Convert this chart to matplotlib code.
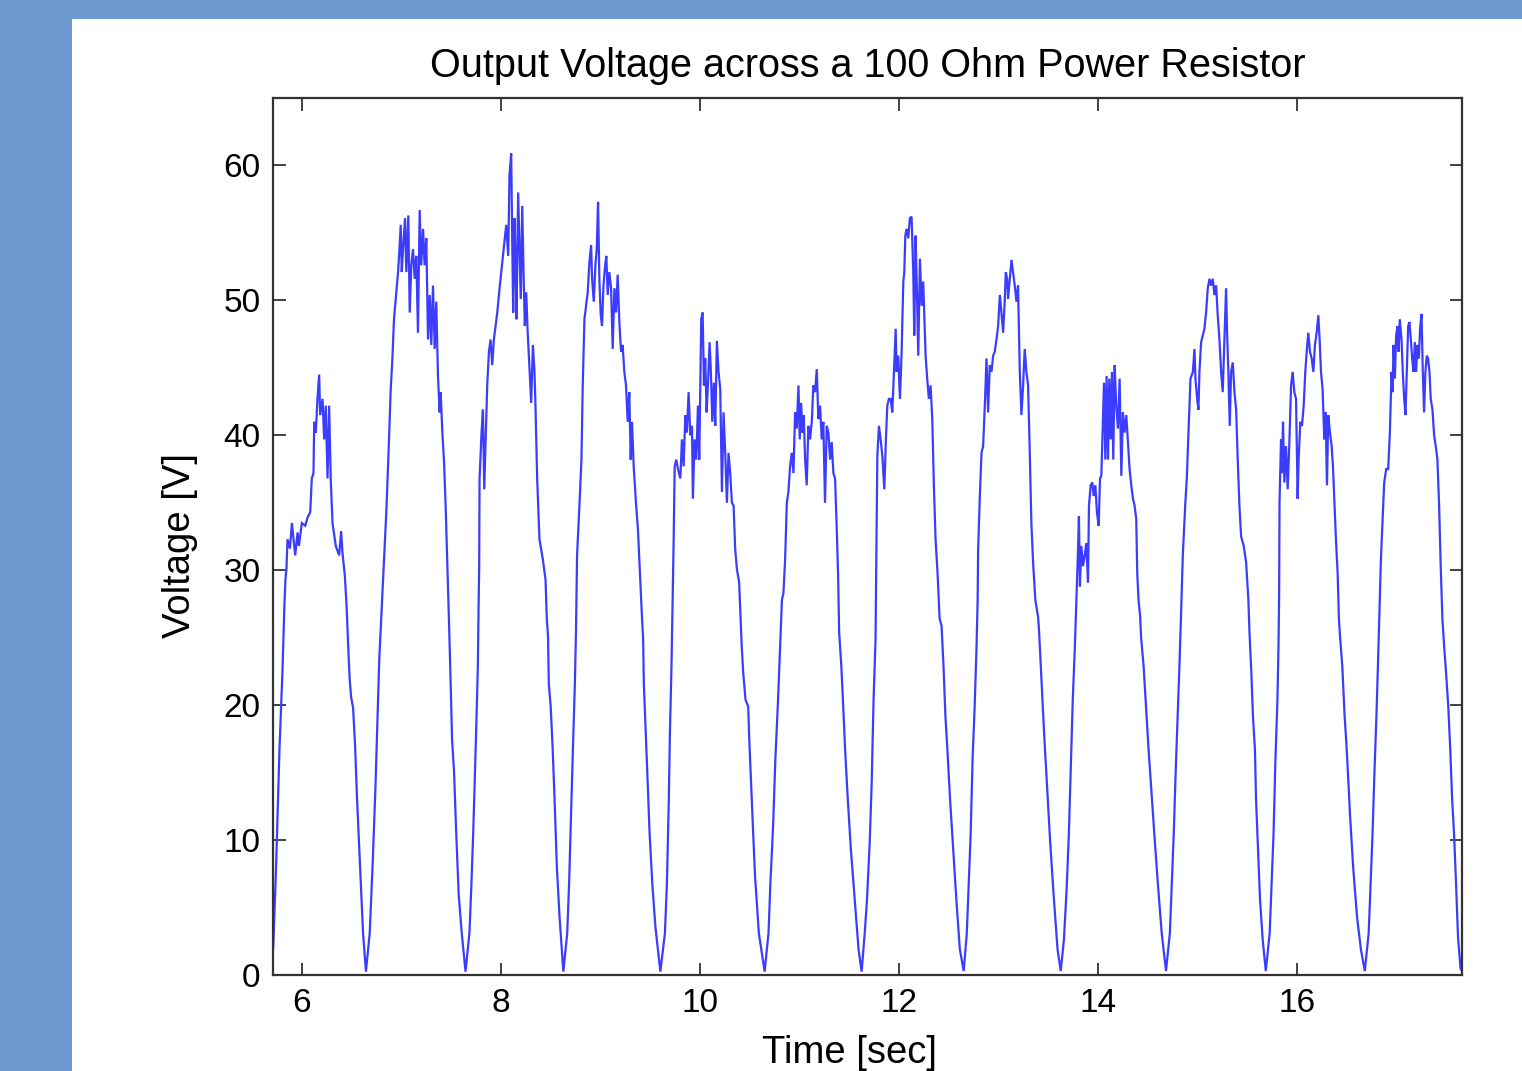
import matplotlib
matplotlib.use("Agg")
import matplotlib.pyplot as plt
from matplotlib.patches import Rectangle

plt.rcParams['font.family'] = ['Liberation Sans', 'DejaVu Sans']

# ---- data (time in s, voltage in V) ----
time_s = [
    # cycle 1
    5.712, 5.74, 5.775, 5.805, 5.825, 5.835, 5.845, 5.856, 5.88, 5.90, 5.933, 5.957, 5.97, 6.0, 6.034, 6.057,
    6.084, 6.10, 6.117, 6.124, 6.14, 6.157, 6.174, 6.184, 6.208, 6.224, 6.24, 6.258, 6.274, 6.29, 6.308, 6.341,
    6.375, 6.395, 6.408, 6.432, 6.45, 6.465, 6.48, 6.495, 6.515, 6.535, 6.555, 6.585, 6.615, 6.644,
    # cycle 2
    6.682, 6.713, 6.74, 6.759, 6.778, 6.80, 6.816, 6.836, 6.85, 6.876, 6.893, 6.91, 6.926, 6.95, 6.967, 6.977,
    6.994, 7.004, 7.017, 7.037, 7.05, 7.07, 7.084, 7.1, 7.117, 7.134, 7.15, 7.167, 7.184, 7.2, 7.218, 7.234,
    7.251, 7.268, 7.285, 7.301, 7.318, 7.335, 7.351, 7.368, 7.385, 7.395, 7.412, 7.428, 7.445, 7.465, 7.478,
    7.491, 7.51, 7.53, 7.549, 7.576, 7.607, 7.645,
    # cycle 3
    7.684, 7.703, 7.722, 7.742, 7.753, 7.769, 7.777, 7.782, 7.786, 7.806, 7.82, 7.833, 7.847, 7.863, 7.88, 7.897,
    7.913, 7.93, 7.964, 7.987, 8.014, 8.04, 8.054, 8.074, 8.087, 8.104, 8.114, 8.124, 8.138, 8.148, 8.157, 8.174,
    8.188, 8.2, 8.215, 8.228, 8.241, 8.255, 8.268, 8.288, 8.305, 8.322, 8.338, 8.348, 8.365, 8.388, 8.422, 8.449,
    8.462, 8.474, 8.482, 8.501, 8.52, 8.54, 8.563, 8.59, 8.628,
    # cycle 4
    8.667, 8.686, 8.705, 8.724, 8.744, 8.755, 8.766, 8.793, 8.81, 8.823, 8.84, 8.857, 8.873, 8.89, 8.907, 8.917,
    8.934, 8.95, 8.964, 8.977, 8.99, 9.004, 9.017, 9.03, 9.044, 9.06, 9.074, 9.09, 9.108, 9.124, 9.141, 9.158,
    9.174, 9.191, 9.208, 9.224, 9.241, 9.258, 9.275, 9.291, 9.305, 9.318, 9.335, 9.358, 9.378, 9.402, 9.419,
    9.43, 9.437, 9.457, 9.476, 9.495, 9.522, 9.553, 9.603,
    # cycle 5
    9.649, 9.669, 9.688, 9.699, 9.715, 9.726, 9.737, 9.747, 9.763, 9.78, 9.804, 9.82, 9.837, 9.854, 9.87, 9.887,
    9.904, 9.921, 9.93, 9.947, 9.964, 9.981, 9.994, 10.007, 10.014, 10.028, 10.041, 10.054, 10.068, 10.081,
    10.098, 10.111, 10.125, 10.141, 10.155, 10.171, 10.188, 10.205, 10.222, 10.238, 10.255, 10.272, 10.288,
    10.305, 10.322, 10.339, 10.355, 10.372, 10.395, 10.41, 10.42, 10.435, 10.459, 10.486, 10.497, 10.516,
    10.536, 10.555, 10.593, 10.651,
    # cycle 6
    10.69, 10.709, 10.736, 10.759, 10.786, 10.805, 10.825, 10.84, 10.857, 10.874, 10.89, 10.907, 10.924, 10.941,
    10.957, 10.974, 10.991, 11.004, 11.018, 11.031, 11.044, 11.058, 11.074, 11.091, 11.108, 11.125, 11.141,
    11.158, 11.175, 11.191, 11.208, 11.225, 11.241, 11.258, 11.275, 11.292, 11.309, 11.325, 11.342, 11.359,
    11.375, 11.39, 11.40, 11.422, 11.441, 11.46, 11.487, 11.518, 11.556, 11.595, 11.626,
    # cycle 7
    11.657, 11.68, 11.707, 11.727, 11.746, 11.766, 11.772, 11.784, 11.80, 11.817, 11.834, 11.854, 11.87, 11.884,
    11.9, 11.918, 11.934, 11.951, 11.968, 11.978, 11.994, 12.011, 12.028, 12.045, 12.055, 12.065, 12.078, 12.095,
    12.111, 12.128, 12.145, 12.155, 12.168, 12.182, 12.195, 12.212, 12.229, 12.245, 12.255, 12.269, 12.285,
    12.302, 12.319, 12.336, 12.352, 12.369, 12.389, 12.41, 12.429, 12.449, 12.468, 12.488, 12.515, 12.546,
    12.578, 12.613, 12.652,
    # cycle 8
    12.683, 12.702, 12.722, 12.741, 12.761, 12.78, 12.792, 12.797, 12.814, 12.831, 12.847, 12.864, 12.881,
    12.897, 12.914, 12.931, 12.948, 12.964, 12.981, 12.998, 13.015, 13.031, 13.048, 13.065, 13.075, 13.088,
    13.098, 13.115, 13.132, 13.148, 13.165, 13.182, 13.198, 13.215, 13.232, 13.249, 13.265, 13.282, 13.299,
    13.316, 13.332, 13.349, 13.372, 13.40, 13.41, 13.435, 13.46, 13.49, 13.52, 13.555, 13.595, 13.627,
    # cycle 9
    13.659, 13.686, 13.709, 13.729, 13.748, 13.768, 13.785, 13.80, 13.81, 13.82, 13.834, 13.851, 13.868, 13.884,
    13.901, 13.911, 13.928, 13.945, 13.958, 13.975, 13.991, 14.008, 14.022, 14.035, 14.052, 14.062, 14.075,
    14.088, 14.102, 14.115, 14.129, 14.142, 14.155, 14.169, 14.185, 14.202, 14.219, 14.236, 14.252, 14.269,
    14.286, 14.302, 14.319, 14.336, 14.353, 14.369, 14.386, 14.396, 14.409, 14.425, 14.435, 14.46, 14.49,
    14.51, 14.544, 14.572, 14.603, 14.642, 14.685,
    # cycle 10
    14.724, 14.743, 14.763, 14.782, 14.802, 14.82, 14.835, 14.854, 14.878, 14.894, 14.911, 14.931, 14.955,
    14.971, 14.981, 14.998, 15.011, 15.021, 15.038, 15.055, 15.071, 15.088, 15.105, 15.122, 15.138, 15.155,
    15.172, 15.189, 15.205, 15.222, 15.239, 15.255, 15.272, 15.289, 15.299, 15.312, 15.326, 15.339, 15.356,
    15.373, 15.39, 15.406, 15.423, 15.44, 15.466, 15.49, 15.513, 15.524, 15.543, 15.559, 15.579, 15.59, 15.61,
    15.63, 15.657, 15.688,
    # cycle 11
    15.727, 15.746, 15.766, 15.785, 15.805, 15.815, 15.822, 15.826, 15.841, 15.851, 15.861, 15.875, 15.891,
    15.908, 15.925, 15.942, 15.958, 15.975, 15.992, 16.008, 16.018, 16.035, 16.052, 16.069, 16.085, 16.099,
    16.115, 16.132, 16.149, 16.166, 16.182, 16.199, 16.216, 16.229, 16.243, 16.259, 16.276, 16.289, 16.303,
    16.316, 16.333, 16.35, 16.363, 16.376, 16.393, 16.41, 16.423, 16.435, 16.457, 16.48, 16.496, 16.51, 16.535,
    16.566, 16.605, 16.644, 16.683,
    # cycle 12
    16.722, 16.741, 16.761, 16.78, 16.80, 16.815, 16.828, 16.845, 16.861, 16.878, 16.898, 16.918, 16.935,
    16.952, 16.962, 16.972, 16.985, 16.998, 17.012, 17.022, 17.035, 17.052, 17.065, 17.079, 17.092, 17.105,
    17.119, 17.132, 17.146, 17.159, 17.172, 17.186, 17.199, 17.212, 17.226, 17.239, 17.253, 17.266, 17.279,
    17.292, 17.306, 17.319, 17.333, 17.346, 17.363, 17.38, 17.396, 17.413, 17.43, 17.446, 17.463, 17.483,
    17.50, 17.522, 17.542, 17.561, 17.58, 17.60, 17.62, 17.645, 17.658,
]

voltage_v = [
    # cycle 1
    2.0, 7.8, 16.7, 22.5, 27.5, 29.3, 30.1, 32.3, 31.6, 33.5, 31.1, 32.8, 31.8, 33.5, 33.3, 33.9,
    34.3, 36.8, 37.2, 41.0, 40.2, 42.7, 44.5, 41.5, 42.7, 39.7, 42.2, 36.8, 42.2, 36.8, 33.5, 31.8,
    31.1, 32.9, 31.3, 29.6, 27.3, 24.5, 22.0, 20.6, 19.8, 17.0, 13.0, 8.0, 3.1, 0.25,
    # cycle 2
    3.1, 8.5, 14.0, 18.7, 23.4, 26.8, 29.1, 32.5, 34.5, 39.7, 43.4, 45.7, 48.6, 50.6, 52.1, 53.3,
    55.6, 52.1, 53.8, 56.1, 52.1, 56.3, 49.1, 52.6, 53.8, 51.6, 53.3, 47.6, 56.7, 52.6, 55.3, 52.6,
    54.6, 47.1, 50.4, 46.7, 51.1, 46.4, 49.9, 44.4, 41.7, 43.2, 40.2, 38.2, 34.8, 29.8, 26.4,
    22.9, 17.4, 15.0, 11.0, 6.0, 3.1, 0.25,
    # cycle 3
    3.1, 6.5, 10.5, 15.5, 18.4, 22.9, 27.8, 30.0, 36.8, 40.2, 41.9, 36.0, 39.7, 43.7, 46.2, 47.1,
    45.2, 47.1, 49.1, 50.9, 52.8, 54.6, 55.6, 53.3, 59.3, 60.9, 54.6, 49.1, 56.1, 52.6, 48.6, 58.0,
    53.8, 50.1, 57.0, 52.1, 48.1, 50.6, 47.9, 44.9, 42.4, 46.7, 44.7, 42.2, 36.8, 32.3, 30.8, 29.3,
    26.4, 25.1, 21.6, 19.9, 16.9, 13.0, 8.0, 4.3, 0.25,
    # cycle 4
    3.1, 6.8, 11.8, 16.7, 21.6, 25.4, 31.1, 35.3, 38.2, 43.7, 48.6, 49.6, 50.6, 52.8, 54.1, 51.6,
    49.9, 52.6, 53.8, 57.3, 51.6, 48.9, 48.1, 50.9, 52.3, 53.3, 50.4, 52.1, 50.9, 46.4, 50.9, 49.1,
    51.9, 48.4, 46.2, 46.7, 44.7, 43.7, 41.0, 43.2, 38.2, 41.0, 37.7, 35.0, 33.0, 29.1, 26.4,
    24.9, 21.6, 17.9, 14.2, 10.5, 6.8, 3.6, 0.25,
    # cycle 5
    3.1, 6.8, 13.0, 17.9, 22.9, 27.8, 32.3, 37.7, 38.2, 37.5, 36.8, 39.7, 37.7, 41.5, 40.2, 43.2,
    40.0, 40.7, 35.3, 39.7, 38.2, 42.2, 38.2, 44.7, 48.6, 49.1, 43.7, 45.7, 41.7, 43.7,
    46.9, 44.7, 41.0, 43.9, 40.7, 47.0, 44.7, 43.4, 35.8, 41.7, 38.7, 35.0, 38.7,
    37.2, 35.0, 34.8, 31.6, 30.1, 29.1, 26.4, 24.5, 22.5, 20.4, 19.9, 17.4, 14.0,
    10.5, 7.3, 3.1, 0.25,
    # cycle 6
    3.1, 6.8, 11.0, 16.0, 20.4, 24.1, 27.8, 28.3, 30.8, 35.0, 35.8, 37.7, 38.7, 37.2,
    41.7, 40.5, 43.7, 39.7, 42.4, 40.2, 41.5, 38.2, 36.3, 40.7, 39.7, 41.0, 43.7,
    43.2, 44.9, 41.2, 42.2, 39.7, 41.0, 35.0, 40.7, 40.2, 38.2, 39.5, 37.2, 36.8,
    33.3, 29.5, 25.4, 22.9, 19.9, 16.7, 13.0, 9.3, 5.6, 1.9, 0.25,
    # cycle 7
    3.1, 5.6, 9.8, 14.2, 20.4, 24.9, 29.8, 38.5, 40.7, 39.7, 38.5, 36.0, 39.7, 42.2,
    42.7, 42.7, 41.7, 44.7, 47.9, 44.7, 45.9, 42.7, 46.2, 51.4, 52.1, 54.8, 55.3, 54.6,
    56.1, 56.2, 52.1, 47.4, 54.8, 50.6, 45.9, 53.1, 49.6, 51.4, 49.1, 45.9, 44.2,
    42.7, 43.7, 41.2, 36.3, 32.3, 29.8, 26.4, 25.9, 22.9, 19.2, 16.7, 13.0, 9.3,
    5.6, 1.9, 0.3,
    # cycle 8
    3.1, 6.8, 10.5, 16.0, 19.7, 24.1, 27.8, 31.6, 35.5, 38.7, 39.2, 42.2, 45.7,
    41.7, 45.2, 44.7, 45.9, 46.2, 47.1, 48.1, 50.4, 49.1, 47.6, 50.1, 52.1, 51.6,
    50.1, 51.6, 53.0, 52.1, 51.1, 49.9, 51.1, 44.9, 41.5, 43.7, 46.4, 44.7, 43.7,
    38.7, 33.5, 30.6, 27.8, 26.5, 25.4, 21.6, 17.9, 14.0, 10.0, 6.0, 1.9, 0.3,
    # cycle 9
    2.6, 6.3, 10.5, 15.5, 20.4, 24.1, 27.8, 31.3, 34.0, 28.8, 31.8, 30.3, 31.1, 32.0,
    29.1, 34.8, 36.3, 36.5, 35.5, 36.3, 34.3, 33.3, 36.8, 37.0, 41.5, 43.9, 38.2,
    44.4, 38.2, 44.2, 39.7, 44.7, 38.2, 45.2, 42.2, 40.5, 44.2, 37.0, 41.7, 40.2,
    41.5, 39.5, 37.5, 36.3, 35.3, 34.8, 33.8, 29.8, 27.8, 26.6, 25.0, 22.9, 19.2,
    16.7, 13.0, 10.0, 6.8, 3.1, 0.3,
    # cycle 10
    3.1, 6.8, 10.5, 15.0, 19.2, 22.9, 26.4, 31.1, 34.8, 36.8, 40.2, 44.2, 44.7,
    46.4, 44.2, 42.7, 41.9, 44.7, 46.9, 47.4, 47.9, 49.1, 50.9, 51.6, 51.1, 51.6,
    50.4, 51.1, 48.9, 47.1, 44.7, 43.2, 47.1, 50.9, 47.6, 44.7, 40.7, 44.7, 45.4,
    43.2, 41.9, 38.2, 34.8, 32.5, 31.8, 30.6, 27.8, 25.4, 22.4, 19.2, 16.7, 13.0, 9.3,
    5.6, 2.6, 0.3,
    # cycle 11
    3.1, 6.8, 10.5, 16.0, 20.4, 24.1, 28.0, 35.0, 39.7, 37.2, 41.0, 36.5, 39.2,
    36.0, 39.5, 43.7, 44.7, 43.2, 42.7, 35.3, 38.2, 41.0, 40.7, 42.2, 44.7, 46.2,
    47.6, 46.2, 45.7, 44.7, 46.7, 47.6, 48.9, 47.1, 44.7, 43.4, 39.7, 41.7, 36.3,
    41.5, 40.2, 39.2, 37.7, 35.3, 32.3, 29.8, 26.4, 25.0, 22.9, 19.2, 17.4, 15.5, 11.8,
    8.0, 4.3, 1.9, 0.3,
    # cycle 12
    3.1, 6.8, 10.5, 15.0, 19.2, 22.9, 26.4, 30.8, 33.5, 36.5, 37.5, 37.5, 40.2,
    44.7, 43.2, 46.7, 44.2, 47.4, 48.1, 46.2, 48.6, 47.1, 44.7, 42.7, 41.5, 44.7,
    48.1, 48.4, 47.1, 45.7, 44.7, 46.9, 44.7, 46.7, 45.7, 47.9, 49.0, 44.7, 41.7,
    44.7, 45.9, 45.7, 44.7, 42.7, 41.9, 40.0, 39.2, 38.2, 34.8, 30.3, 26.4, 24.1,
    22.4, 19.9, 16.7, 13.0, 10.5, 6.8, 2.8, 0.5, 0.3,
]

x_ticks = [6, 8, 10, 12, 14, 16]
y_ticks = [0, 10, 20, 30, 40, 50, 60]
x_limits = (5.71, 17.66)
y_limits = (0, 65)

title_text = "Output Voltage across a 100 Ohm Power Resistor"
x_label = "Time [sec]"
y_label = "Voltage [V]"

# ---- figure ----
W, H = 1522, 1071
fig = plt.figure(figsize=(W / 100, H / 100), dpi=100)
fig.patch.set_facecolor('#6c99d0')
fig.patches.append(Rectangle((72 / W, 0), 1 - 72 / W, (H - 19) / H,
                             transform=fig.transFigure, facecolor='white',
                             edgecolor='none', zorder=-10))

ax = fig.add_axes([273 / W, 1 - 975 / H, (1462 - 273) / W, (975 - 98) / H])
ax.set_zorder(1)
ax.set_facecolor('white')
ax.plot(time_s, voltage_v, color='#3c3cff', linewidth=1.6, solid_joinstyle='miter')

ax.set_xlim(*x_limits)
ax.set_ylim(*y_limits)
ax.set_xticks(x_ticks)
ax.set_yticks(y_ticks)
ax.tick_params(direction='in', length=9, width=1.2, top=True, right=True,
               labelsize=24, pad=9, colors='#222222', labelcolor='black')
for s in ax.spines.values():
    s.set_linewidth(1.6)
    s.set_color('#333333')

ax.set_title(title_text, fontsize=28.5, pad=15)
ax.set_xlabel(x_label, fontsize=27.5)
ax.set_ylabel(y_label, fontsize=27.5)
ax.xaxis.set_label_coords((849 - 273) / 1189, (975 - 1035) / 877)
ax.yaxis.set_label_coords((198 - 273) / 1189, (975 - 545) / 877)

fig.savefig('out.png', dpi=100, facecolor=fig.get_facecolor())
